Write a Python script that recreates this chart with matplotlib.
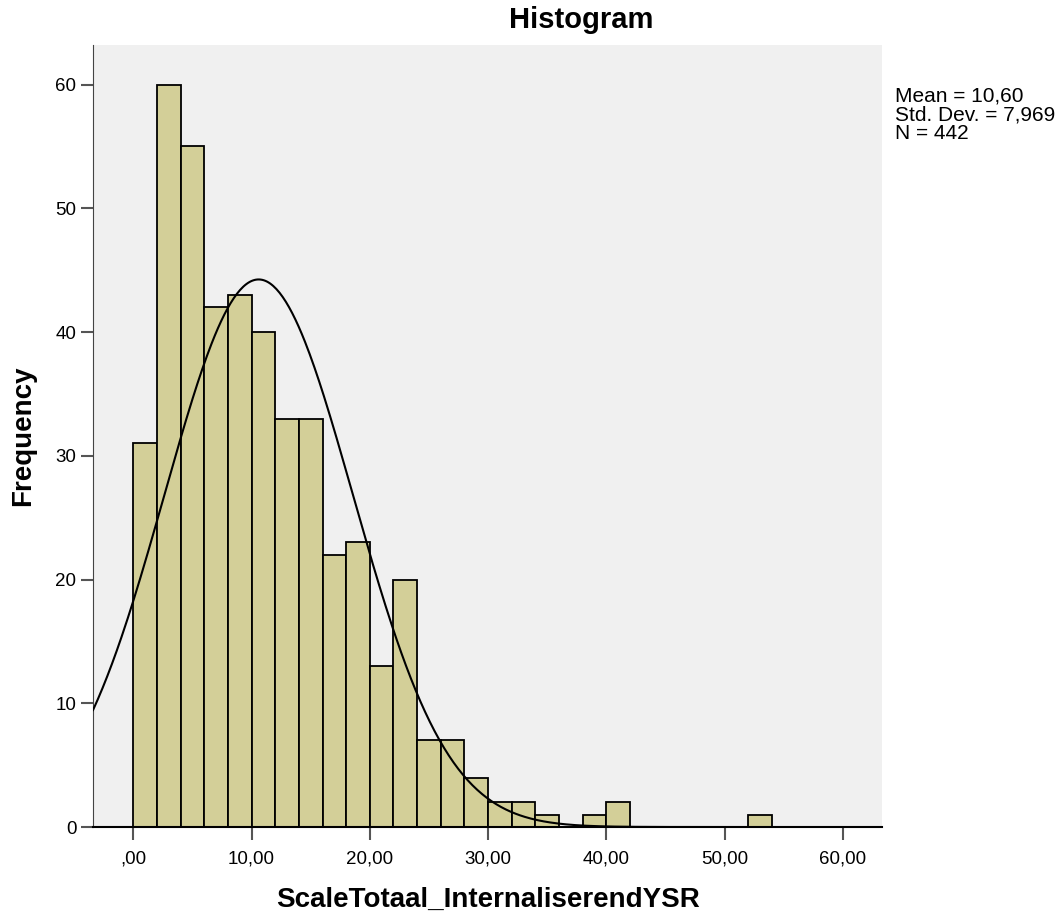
import numpy as np
import matplotlib.pyplot as plt

plt.rcParams['font.family'] = ['Liberation Sans', 'DejaVu Sans']

# bin edges (width 2) and the counts
bin_left = [0, 2, 4, 6, 8, 10, 12, 14, 16, 18, 20, 22, 24, 26, 28, 30, 32, 34, 36, 38, 40, 52]
counts = [31, 60, 55, 42, 43, 40, 33, 33, 22, 23, 13, 20, 7, 7, 4, 2, 2, 1, 0, 1, 2, 1]
bin_width = 2

mean = 10.60
std = 7.969
n = 442

xticks = [0, 10, 20, 30, 40, 50, 60]
xticklabels = [',00', '10,00', '20,00', '30,00', '40,00', '50,00', '60,00']
yticks = [0, 10, 20, 30, 40, 50, 60]

fig = plt.figure(figsize=(10.61, 9.17), dpi=100)
ax = fig.add_axes([0.0877, 0.0981, 0.7436, 0.8528])
ax.set_facecolor('#F0F0F0')

ax.bar(bin_left, counts, width=bin_width, align='edge', color='#D3CF98',
       edgecolor='black', linewidth=1.3, zorder=2)

xmin, xmax = -3.4, 63.3
xs = np.linspace(xmin, xmax, 500)
curve = n * bin_width / (std * np.sqrt(2 * np.pi)) * np.exp(-0.5 * ((xs - mean) / std) ** 2)
ax.plot(xs, curve, color='black', linewidth=1.5, zorder=3)

ax.set_xlim(xmin, xmax)
ax.set_ylim(0, 63.2)
ax.set_xticks(xticks)
ax.set_xticklabels(xticklabels)
ax.set_yticks(yticks)

for s in ['top', 'right']:
    ax.spines[s].set_visible(False)
ax.spines['left'].set_color('#444444')
ax.spines['bottom'].set_color('black')
ax.spines['bottom'].set_linewidth(1.5)
ax.tick_params(axis='both', length=9, width=1.5, color='#555555', labelsize=13.5)
ax.tick_params(axis='x', pad=8)
ax.tick_params(axis='y', pad=3)

fig.text(0.548, 0.978, 'Histogram', fontsize=21, fontweight='bold', ha='center', va='center')
ax.set_xlabel('ScaleTotaal_InternaliserendYSR', fontsize=20, fontweight='bold', labelpad=14)
ax.set_ylabel('Frequency', fontsize=20, fontweight='bold', labelpad=14)

fig.text(0.8435, 0.906, 'Mean = 10,60\nStd. Dev. = 7,969\nN = 442',
         fontsize=15, va='top', ha='left', linespacing=1.0)

fig.savefig('out.png', dpi=100)
